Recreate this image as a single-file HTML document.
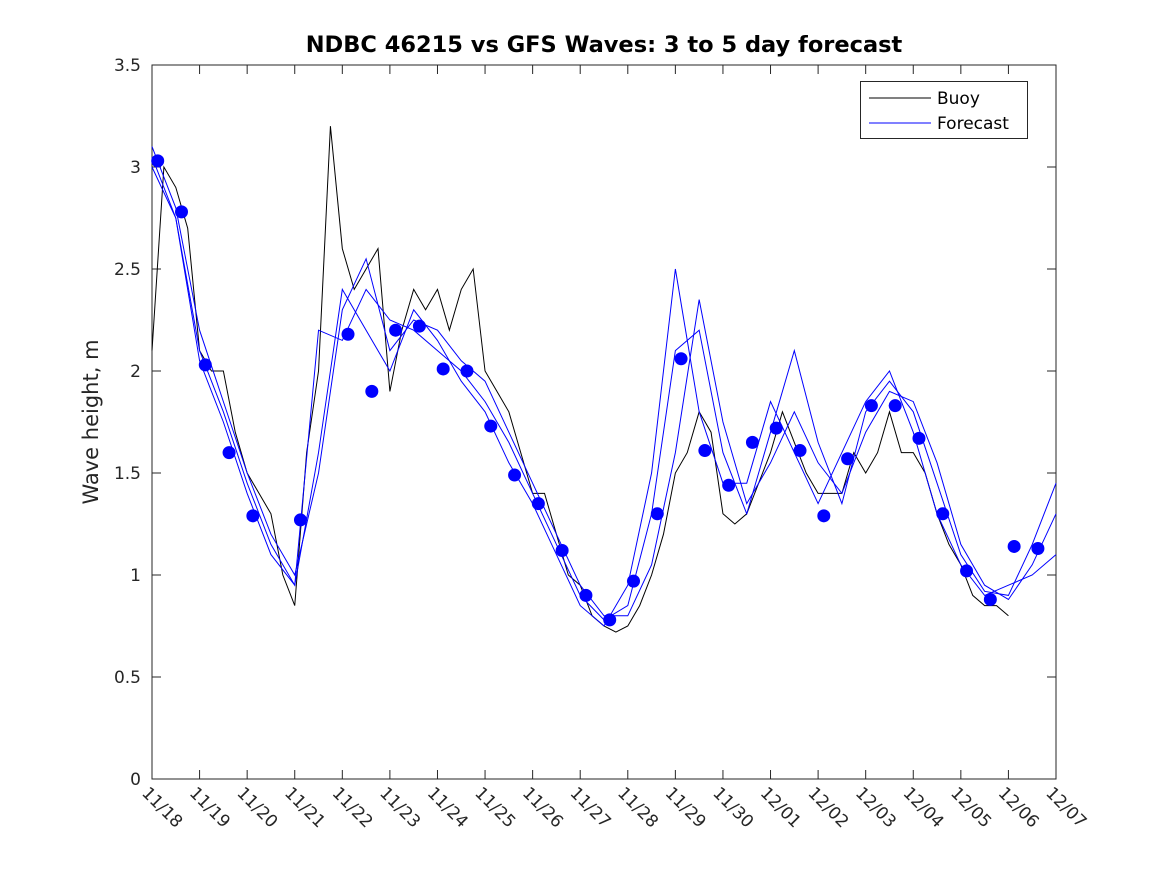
<!DOCTYPE html>
<html><head><meta charset="utf-8"><style>
html,body{margin:0;padding:0;background:#fff;}
svg{display:block;font-family:"DejaVu Sans","Liberation Sans",sans-serif;}
</style></head><body>
<svg id="chart" width="1167" height="875" viewBox="0 0 1167 875">
<rect width="1167" height="875" fill="#fff"/>
<text x="604" y="52" text-anchor="middle" font-size="22.5" font-weight="bold" fill="#000">NDBC 46215 vs GFS Waves: 3 to 5 day forecast</text>
<text transform="translate(98,422) rotate(-90)" text-anchor="middle" font-size="21" fill="#262626">Wave height, m</text>
<g id="plot"></g>
</svg>
<script>
const xTickLabels = ["11/18","11/19","11/20","11/21","11/22","11/23","11/24","11/25","11/26","11/27","11/28","11/29","11/30","12/01","12/02","12/03","12/04","12/05","12/06","12/07"];
const yTicks = [0,0.5,1,1.5,2,2.5,3,3.5];
const yTickLabels = ["0","0.5","1","1.5","2","2.5","3","3.5"];
const buoyStep = 0.25;
const buoyValues = [2.1,3.0,2.9,2.7,2.1,2.0,2.0,1.7,1.5,1.4,1.3,1.0,0.85,1.6,2.0,3.2,2.6,2.4,2.5,2.6,1.9,2.2,2.4,2.3,2.4,2.2,2.4,2.5,2.0,1.9,1.8,1.6,1.4,1.4,1.2,1.0,0.95,0.8,0.75,0.72,0.75,0.85,1.0,1.2,1.5,1.6,1.8,1.7,1.3,1.25,1.3,1.45,1.6,1.8,1.65,1.5,1.4,1.4,1.4,1.6,1.5,1.6,1.8,1.6,1.6,1.5,1.3,1.15,1.05,0.9,0.85,0.85,0.8];
const dotDays = [0.12,0.62,1.12,1.62,2.12,3.12,4.12,4.62,5.12,5.62,6.12,6.62,7.12,7.62,8.12,8.62,9.12,9.62,10.12,10.62,11.12,11.62,12.12,12.62,13.12,13.62,14.12,14.62,15.12,15.62,16.12,16.62,17.12,17.62,18.12,18.62];
const dotValues = [3.03,2.78,2.03,1.6,1.29,1.27,2.18,1.9,2.2,2.22,2.01,2.0,1.73,1.49,1.35,1.12,0.9,0.78,0.97,1.3,2.06,1.61,1.44,1.65,1.72,1.61,1.29,1.57,1.83,1.83,1.67,1.3,1.02,0.88,1.14,1.13];
const fcStep = 0.5;
const forecast1 = [3.1,2.8,2.2,1.85,1.5,1.2,1.0,1.5,2.3,2.55,2.1,2.25,2.2,2.05,1.95,1.7,1.45,1.2,0.95,0.8,0.8,1.05,1.6,2.35,1.75,1.35,1.55,1.8,1.55,1.4,1.7,1.9,1.85,1.55,1.15,0.95,0.88,1.05,1.3];
const forecast2 = [3.05,2.75,2.1,1.8,1.45,1.15,0.95,2.2,2.15,2.4,2.25,2.2,2.1,2.0,1.85,1.65,1.4,1.15,0.9,0.78,0.85,1.3,2.1,2.2,1.6,1.3,1.7,2.1,1.65,1.35,1.8,1.95,1.8,1.45,1.1,0.92,0.9,1.15,1.45];
const forecast3 = [3.0,2.75,2.05,1.75,1.4,1.1,0.95,1.6,2.4,2.2,2.0,2.3,2.15,1.95,1.8,1.55,1.35,1.1,0.85,0.75,0.95,1.5,2.5,1.8,1.45,1.45,1.85,1.6,1.35,1.6,1.85,2.0,1.7,1.3,1.05,0.9,0.95,1.0,1.1];

const X0=152,X1=1056,Y0=779,Y1=65;
const xs = d => X0 + d*(X1-X0)/19;
const ys = v => Y0 - v*(Y0-Y1)/3.5;
const NS="http://www.w3.org/2000/svg";
const g=document.getElementById('plot');
function mk(t,a){const e=document.createElementNS(NS,t);for(const k in a)e.setAttribute(k,a[k]);g.appendChild(e);return e;}

const ax=mk('rect',{x:X0,y:Y1,width:X1-X0,height:Y0-Y1,fill:'#fff',stroke:'#262626','stroke-width':1});



xTickLabels.forEach((lab,i)=>{
  const x=xs(i);
  mk('line',{x1:x,y1:Y0,x2:x,y2:Y0-9,stroke:'#262626'});
  mk('line',{x1:x,y1:Y1,x2:x,y2:Y1+9,stroke:'#262626'});
  const t=mk('text',{x:0,y:0,'font-size':17,fill:'#262626',transform:`translate(${x-11},${794}) rotate(45)`});
  t.textContent=lab;
  
  
});
yTicks.forEach((v,i)=>{
  const y=ys(v);
  mk('line',{x1:X0,y1:y,x2:X0+9,y2:y,stroke:'#262626'});
  mk('line',{x1:X1,y1:y,x2:X1-9,y2:y,stroke:'#262626'});
  const t=mk('text',{x:X0-11,y:y+6,'font-size':17,'text-anchor':'end',fill:'#262626'});
  t.textContent=yTickLabels[i];
  
  
});

const bp=mk('polyline',{points:buoyValues.map((v,i)=>xs(i*buoyStep)+','+ys(v)).join(' '),fill:'none',stroke:'#000','stroke-width':1});



[forecast1,forecast2,forecast3].forEach((s,k)=>{
  const p=mk('polyline',{points:s.map((v,i)=>xs(i*fcStep)+','+ys(v)).join(' '),fill:'none',stroke:'#0000ff','stroke-width':1});
  
  
});

dotDays.forEach((d,i)=>{
  const c=mk('circle',{cx:xs(d),cy:ys(dotValues[i]),r:6.5,fill:'#0000ff'});
  
  
});

const lg=mk('rect',{x:860.5,y:81.5,width:167,height:57,fill:'#fff',stroke:'#262626'});


mk('line',{x1:869,y1:98,x2:931,y2:98,stroke:'#000'});
mk('line',{x1:869,y1:123,x2:931,y2:123,stroke:'#0000ff'});
const l1=mk('text',{x:937,y:104,'font-size':17,fill:'#000'});l1.textContent='Buoy';


const l2=mk('text',{x:937,y:129,'font-size':17,fill:'#000'});l2.textContent='Forecast';


</script>
</body></html>
